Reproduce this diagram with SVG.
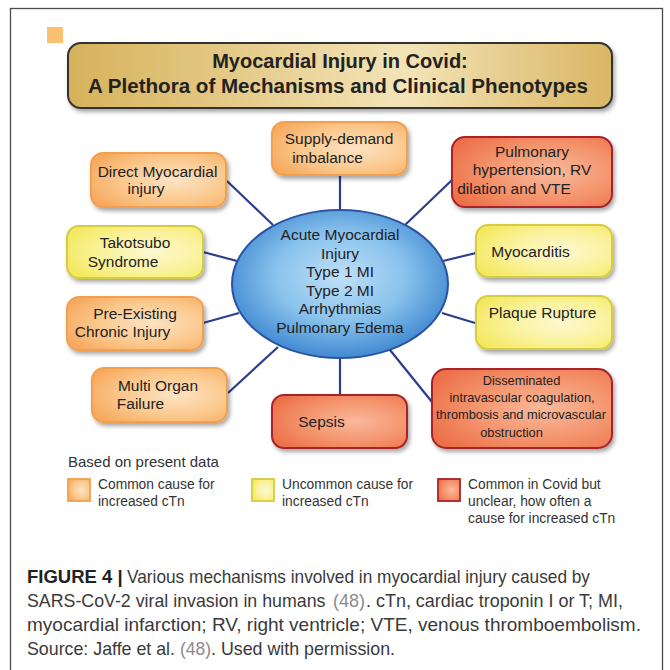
<svg xmlns="http://www.w3.org/2000/svg" width="670" height="670" viewBox="0 0 670 670">
<defs>
  <radialGradient id="gOrange" cx="0.62" cy="0.5" r="0.7">
    <stop offset="0" stop-color="#fde3c4"/>
    <stop offset="0.55" stop-color="#fbc98e"/>
    <stop offset="1" stop-color="#f6a95e"/>
  </radialGradient>
  <radialGradient id="gYellow" cx="0.62" cy="0.5" r="0.7">
    <stop offset="0" stop-color="#fdf8d2"/>
    <stop offset="0.55" stop-color="#faf29a"/>
    <stop offset="1" stop-color="#f3e85e"/>
  </radialGradient>
  <radialGradient id="gRed" cx="0.62" cy="0.5" r="0.7">
    <stop offset="0" stop-color="#f9b99b"/>
    <stop offset="0.55" stop-color="#f4946d"/>
    <stop offset="1" stop-color="#ec7048"/>
  </radialGradient>
  <linearGradient id="gGold" x1="0" y1="0" x2="1" y2="0">
    <stop offset="0" stop-color="#d6b25a"/>
    <stop offset="0.62" stop-color="#f3e4b8"/>
    <stop offset="1" stop-color="#d9b663"/>
  </linearGradient>
  <radialGradient id="gBlue" cx="0.5" cy="0.45" r="0.55">
    <stop offset="0" stop-color="#c0e0f8"/>
    <stop offset="0.55" stop-color="#88c2ec"/>
    <stop offset="1" stop-color="#4189d2"/>
  </radialGradient>
  <filter id="shadow" x="-10%" y="-10%" width="125%" height="135%">
    <feGaussianBlur in="SourceAlpha" stdDeviation="2.2"/>
    <feOffset dx="1.5" dy="3" result="b"/>
    <feComponentTransfer><feFuncA type="linear" slope="0.35"/></feComponentTransfer>
    <feMerge><feMergeNode/><feMergeNode in="SourceGraphic"/></feMerge>
  </filter>
  <style>
    .box { stroke-width: 2; filter: url(#shadow); }
    .orange { fill: url(#gOrange); stroke: #f2a04e; }
    .yellow { fill: url(#gYellow); stroke: #d7cc3c; }
    .red { fill: url(#gRed); stroke: #a8232a; }
    .t { font-family: "Liberation Sans", Arial, sans-serif; font-size: 15.5px; fill: #222; text-anchor: middle; }
    .ts { font-family: "Liberation Sans", Arial, sans-serif; font-size: 12.8px; fill: #222; text-anchor: middle; }
    .title { font-family: "Liberation Sans", Arial, sans-serif; font-size: 20px; font-weight: bold; fill: #222; text-anchor: middle; }
    .leg { font-family: "Liberation Sans", Arial, sans-serif; font-size: 13.8px; fill: #333; }
    .cap { font-family: "Liberation Sans", Arial, sans-serif; font-size: 18.5px; fill: #3a3a3a; }
    .capb { font-family: "Liberation Sans", Arial, sans-serif; font-size: 18.5px; font-weight: bold; fill: #222; }
    .ref { font-family: "Liberation Sans", Arial, sans-serif; font-size: 18.5px; fill: #8a8a8a; }
    .conn line { stroke: #2b3e8e; stroke-width: 2.2; }
  </style>
</defs>

<rect x="0" y="0" width="670" height="670" fill="#ffffff"/>
<rect x="10.5" y="8.5" width="652" height="680" fill="none" stroke="#4a4a4a" stroke-width="1.3"/>

<rect x="47" y="27" width="16" height="16" fill="#fbbf72"/>

<g id="title">
  <rect x="68" y="43" width="544" height="65" rx="13" fill="url(#gGold)" stroke="#333" stroke-width="2" filter="url(#shadow)"/>
  <text class="title" x="340" y="68">Myocardial Injury in Covid:</text>
  <text class="title" x="338" y="93" textLength="500" lengthAdjust="spacingAndGlyphs">A Plethora of Mechanisms and Clinical Phenotypes</text>
</g>

<g id="connectors" class="conn">
  <line x1="340" y1="175" x2="340" y2="211"/>
  <line x1="227" y1="181" x2="273" y2="225"/>
  <line x1="203" y1="252" x2="237" y2="261"/>
  <line x1="452" y1="180" x2="405" y2="225"/>
  <line x1="476" y1="253" x2="443" y2="261"/>
  <line x1="203" y1="323" x2="239" y2="313"/>
  <line x1="228" y1="393" x2="278" y2="347"/>
  <line x1="340" y1="357" x2="340" y2="395"/>
  <line x1="475" y1="323" x2="442" y2="313"/>
  <line x1="432" y1="402" x2="390" y2="350"/>
</g>

<g id="center">
  <ellipse cx="340" cy="284" rx="108" ry="74" fill="url(#gBlue)" stroke="#2a52a2" stroke-width="2"/>
  <text class="t" x="340" y="240">Acute Myocardial</text>
  <text class="t" x="340" y="258.5">Injury</text>
  <text class="t" x="340" y="277">Type 1 MI</text>
  <text class="t" x="340" y="295.5">Type 2 MI</text>
  <text class="t" x="340" y="314">Arrhythmias</text>
  <text class="t" x="340" y="332.5">Pulmonary Edema</text>
</g>

<g id="supply">
  <rect class="box orange" x="272" y="122" width="135" height="53" rx="12"/>
  <text class="t" x="339" y="144">Supply-demand</text>
  <text class="t" x="327.5" y="163">imbalance</text>
</g>

<g id="direct">
  <rect class="box orange" x="91" y="153" width="135" height="54" rx="12"/>
  <text class="t" x="157.5" y="177">Direct Myocardial</text>
  <text class="t" x="146" y="194">injury</text>
</g>

<g id="takotsubo">
  <rect class="box yellow" x="67" y="226" width="136" height="52" rx="12"/>
  <text class="t" x="135" y="248">Takotsubo</text>
  <text class="t" x="123" y="267">Syndrome</text>
</g>

<g id="preexisting">
  <rect class="box orange" x="67" y="297" width="136" height="53" rx="12"/>
  <text class="t" x="135" y="319">Pre-Existing</text>
  <text class="t" x="122.5" y="337">Chronic Injury</text>
</g>

<g id="multiorgan">
  <rect class="box orange" x="92" y="368" width="135" height="54" rx="12"/>
  <text class="t" x="158" y="391">Multi Organ</text>
  <text class="t" x="140.5" y="409">Failure</text>
</g>

<g id="sepsis">
  <rect class="box red" x="272" y="395" width="135" height="53" rx="12"/>
  <text class="t" x="321.5" y="427">Sepsis</text>
</g>

<g id="pulmonary">
  <rect class="box red" x="452" y="137" width="160" height="70" rx="13"/>
  <text class="t" x="532" y="157">Pulmonary</text>
  <text class="t" x="532" y="175">hypertension, RV</text>
  <text class="t" x="514" y="194">dilation and VTE</text>
</g>

<g id="myocarditis">
  <rect class="box yellow" x="476" y="225" width="136" height="52" rx="12"/>
  <text class="t" x="530.5" y="257">Myocarditis</text>
</g>

<g id="plaque">
  <rect class="box yellow" x="476" y="296" width="136" height="53" rx="12"/>
  <text class="t" x="542.5" y="318">Plaque Rupture</text>
</g>

<g id="dic">
  <rect class="box red" x="432" y="369" width="180" height="79" rx="14"/>
  <text class="ts" x="521.5" y="385">Disseminated</text>
  <text class="ts" x="522" y="402">intravascular coagulation,</text>
  <text class="ts" x="521" y="419">thrombosis and microvascular</text>
  <text class="ts" x="511.5" y="437">obstruction</text>
</g>

<g id="legend">
  <text class="leg" x="68" y="467" style="font-size:15px">Based on present data</text>
  <rect class="orange" x="68" y="479" width="22" height="22" stroke-width="1.8"/>
  <text class="leg" x="98" y="489">Common cause for</text>
  <text class="leg" x="98" y="506">increased cTn</text>
  <rect class="yellow" x="252" y="479" width="22" height="22" stroke-width="1.8"/>
  <text class="leg" x="282" y="489">Uncommon cause for</text>
  <text class="leg" x="282" y="506">increased cTn</text>
  <rect class="red" x="438" y="479" width="22" height="22" stroke-width="1.8"/>
  <text class="leg" x="468" y="489">Common in Covid but</text>
  <text class="leg" x="468" y="506">unclear, how often a</text>
  <text class="leg" x="468" y="523">cause for increased cTn</text>
</g>

<g id="caption">
  <text class="capb" x="27" y="583">FIGURE 4 |</text>
  <text class="cap" x="127" y="583" textLength="463" lengthAdjust="spacingAndGlyphs">Various mechanisms involved in myocardial injury caused by</text>
  <text class="cap" x="27" y="607" style="font-size:17.8px">SARS-CoV-2 viral invasion in humans</text>
  <text class="ref" x="333" y="607" textLength="32" lengthAdjust="spacingAndGlyphs">(48)</text>
  <text class="cap" x="366" y="607" textLength="257" lengthAdjust="spacingAndGlyphs">. cTn, cardiac troponin I or T; MI,</text>
  <text class="cap" x="27" y="631" textLength="614" lengthAdjust="spacingAndGlyphs">myocardial infarction; RV, right ventricle; VTE, venous thromboembolism.</text>
  <text class="cap" x="27" y="655" textLength="148" lengthAdjust="spacingAndGlyphs">Source: Jaffe et al.</text>
  <text class="ref" x="180" y="655" textLength="31" lengthAdjust="spacingAndGlyphs">(48)</text>
  <text class="cap" x="211" y="655" textLength="184" lengthAdjust="spacingAndGlyphs">. Used with permission.</text>
</g>
</svg>
